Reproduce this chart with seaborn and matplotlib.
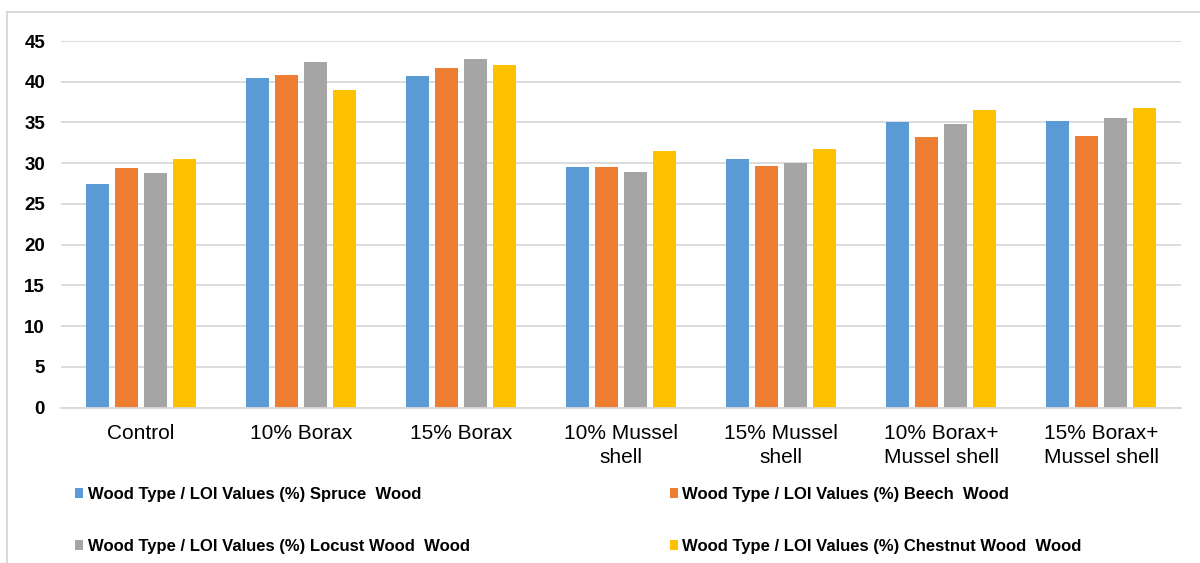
import matplotlib
matplotlib.use("Agg")
import matplotlib.pyplot as plt
from matplotlib.patches import Patch, Rectangle
import pandas as pd
import seaborn as sns

# Treatments on the x axis
categories = ["Control", "10% Borax", "15% Borax", "10% Mussel\nshell",
              "15% Mussel\nshell", "10% Borax+\nMussel shell", "15% Borax+\nMussel shell"]

# LOI values (%) for each wood type
spruce = [27.5, 40.4, 40.7, 29.5, 30.5, 35.0, 35.2]
beech = [29.4, 40.8, 41.7, 29.5, 29.7, 33.2, 33.3]
locust = [28.8, 42.4, 42.8, 28.9, 30.0, 34.8, 35.5]
chestnut = [30.5, 39.0, 42.0, 31.5, 31.8, 36.5, 36.8]

series_names = [
    "Wood Type / LOI Values (%) Spruce  Wood",
    "Wood Type / LOI Values (%) Beech  Wood",
    "Wood Type / LOI Values (%) Locust Wood  Wood",
    "Wood Type / LOI Values (%) Chestnut Wood  Wood",
]
y_ticks = [0, 5, 10, 15, 20, 25, 30, 35, 40, 45]

colors = ["#5B9BD5", "#ED7D31", "#A5A5A5", "#FFC000"]

rows = []
for name, vals in zip(series_names, [spruce, beech, locust, chestnut]):
    for cat, v in zip(categories, vals):
        rows.append({"Treatment": cat, "Series": name, "LOI": v})
df = pd.DataFrame(rows)

sns.set_style("white")
plt.rcParams["font.family"] = ["Liberation Sans", "DejaVu Sans"]
plt.rcParams["text.color"] = "black"
plt.rcParams["xtick.color"] = "black"
plt.rcParams["ytick.color"] = "black"

fig = plt.figure(figsize=(12, 5.63), dpi=100)
ax = fig.add_axes([61 / 1200, 155.5 / 563, 1120 / 1200, 366.5 / 563])

sns.barplot(data=df, x="Treatment", y="LOI", hue="Series", order=categories,
            hue_order=series_names, palette=colors, width=0.725, gap=0.2,
            saturation=1, legend=False, ax=ax, edgecolor="none")

ax.set_ylim(0, 45)
ax.set_xlim(-0.5, len(categories) - 0.5)
ax.set_yticks(y_ticks)
ax.set_yticklabels([str(t) for t in y_ticks], fontsize=13.5, fontweight="bold")
ax.tick_params(axis="x", labelsize=15, length=0, pad=12, labelcolor="black")
for lbl in ax.get_xticklabels():
    lbl.set_linespacing(1.3)
ax.tick_params(axis="y", length=0, pad=11.5, labelcolor="black")
ax.set_xlabel("")
ax.set_ylabel("")
ax.grid(axis="y", color="#D9D9D9", linewidth=1.3)
ax.set_axisbelow(True)
for side in ["top", "right", "left"]:
    ax.spines[side].set_visible(False)
ax.spines["bottom"].set_color("#D9D9D9")
ax.spines["bottom"].set_linewidth(1.3)

# Chart frame
fig.patches.append(Rectangle((7 / 1200, -0.05), 1.1, (563 - 12) / 563 + 0.05,
                             transform=fig.transFigure, fill=False,
                             edgecolor="#D9D9D9", linewidth=1.5))

handles = [Patch(facecolor=c, edgecolor="none") for c in colors]
order = [0, 2, 1, 3]
fig.legend([handles[i] for i in order], [series_names[i] for i in order],
           ncol=2, loc="upper left", bbox_to_anchor=(75 / 1200, 1 - 487 / 563),
           frameon=False, prop={"weight": "bold", "size": 12}, labelcolor="black",
           handlelength=0.5, handleheight=0.5, handletextpad=0.25,
           columnspacing=12.0, labelspacing=2.2, borderaxespad=0, borderpad=0)

fig.savefig("out.png", dpi=100)
